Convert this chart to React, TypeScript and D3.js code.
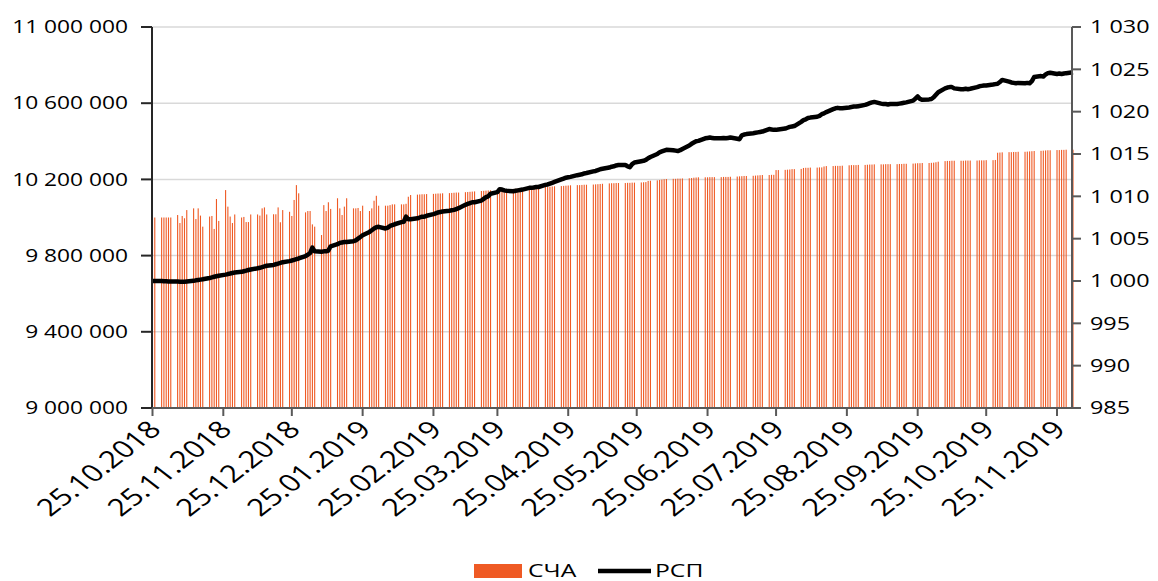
import React from 'react'
import * as d3 from 'd3'

// СЧА, тыс. руб. (one value per business day, grouped by week)
const navValues = [
  10000, 10000,
  10000, 10000, 10000, 10000, 10000,
  10013, 9971, 10008, 9996, 10039,
  10048, 9992, 10048, 10010, 9952,
  10005, 10008, 9940, 10097, 9982,
  10144, 10057, 10005, 9971, 10016,
  10000, 10003, 9976, 9976, 10016,
  10016, 10010, 10048, 10053, 10016,
  10017, 10017, 10053, 9975, 10039,
  10030, 10008, 10092, 10170, 10127,
  10027, 10034, 10034, 9964, 9952,
  9908, 10065, 10034, 10080, 10045,
  10101, 10048, 10013, 10057, 10101,
  10048, 10048, 10050, 10034, 10062,
  10034, 10048, 10088, 10114, 10062,
  10062, 10062, 10065, 10069, 10069,
  10069, 10069, 10072, 10109, 10118,
  10120, 10121, 10122, 10122, 10123,
  10124, 10125, 10126, 10126, 10127,
  10128, 10129, 10130, 10131, 10131,
  10133, 10134, 10135, 10136, 10137,
  10139, 10140, 10141, 10142, 10143,
  10145, 10146, 10147, 10148, 10149,
  10150, 10151, 10152, 10153, 10154,
  10155, 10156, 10157, 10158, 10158,
  10160, 10161, 10162, 10163, 10164,
  10165, 10166, 10167, 10168, 10169,
  10170, 10170, 10171, 10172, 10172,
  10173, 10174, 10175, 10176, 10177,
  10179, 10180, 10180, 10181, 10181,
  10181, 10182, 10182, 10183, 10183,
  10184, 10185, 10186, 10192, 10193,
  10195, 10197, 10199, 10201, 10202,
  10203, 10203, 10204, 10204, 10205,
  10206, 10207, 10209, 10210, 10211,
  10211, 10211, 10212, 10212, 10212,
  10212, 10213, 10213, 10213, 10214,
  10215, 10216, 10217, 10218, 10218,
  10219, 10220, 10221, 10222, 10223,
  10223, 10224, 10224, 10249, 10249,
  10250, 10251, 10252, 10254, 10254,
  10255, 10260, 10261, 10261, 10262,
  10262, 10263, 10263, 10268, 10270,
  10270, 10271, 10271, 10271, 10272,
  10274, 10275, 10275, 10275, 10276,
  10276, 10277, 10278, 10278, 10279,
  10279, 10279, 10280, 10280, 10280,
  10280, 10281, 10281, 10282, 10282,
  10283, 10284, 10285, 10285, 10286,
  10286, 10287, 10288, 10290, 10293,
  10296, 10297, 10297, 10298, 10298,
  10298, 10298, 10299, 10299, 10299,
  10299, 10300, 10300, 10300, 10301,
  10301, 10302, 10340, 10341, 10342,
  10343, 10343, 10344, 10344, 10345,
  10345, 10346, 10347, 10348, 10349,
  10350, 10351, 10352, 10353, 10353,
  10354, 10354, 10355, 10355, 10356,
  10356
]

// РСП, руб.
const unitValues = [
  1000.0, 1000.0,
  1000.0, 999.98, 999.97, 999.95, 999.95,
  999.93, 999.92, 999.9, 999.92, 999.95,
  1000.02, 1000.08, 1000.12, 1000.16, 1000.2,
  1000.35, 1000.42, 1000.5, 1000.56, 1000.62,
  1000.75, 1000.82, 1000.88, 1000.95, 1001.0,
  1001.08, 1001.15, 1001.22, 1001.3, 1001.36,
  1001.5, 1001.56, 1001.64, 1001.72, 1001.8,
  1001.9, 1001.98, 1002.06, 1002.14, 1002.22,
  1002.35, 1002.42, 1002.5, 1002.58, 1002.66,
  1002.95, 1003.1, 1003.3, 1003.95, 1003.5,
  1003.45, 1003.5, 1003.5, 1003.6, 1004.1,
  1004.35, 1004.5, 1004.55, 1004.6, 1004.6,
  1004.7, 1004.8, 1005.0, 1005.2, 1005.4,
  1005.8, 1006.0, 1006.2, 1006.35, 1006.4,
  1006.2, 1006.3, 1006.5, 1006.6, 1006.7,
  1006.95, 1007.0, 1007.6, 1007.3, 1007.3,
  1007.4, 1007.5, 1007.6, 1007.6, 1007.7,
  1007.9, 1008.0, 1008.1, 1008.15, 1008.2,
  1008.3, 1008.35, 1008.4, 1008.5, 1008.6,
  1009.0, 1009.1, 1009.2, 1009.3, 1009.3,
  1009.5, 1009.7, 1009.9, 1010.0, 1010.3,
  1010.5, 1010.85, 1010.8, 1010.7, 1010.65,
  1010.6, 1010.65, 1010.7, 1010.75, 1010.8,
  1011.0, 1011.0, 1011.05, 1011.1, 1011.1,
  1011.35, 1011.4, 1011.5, 1011.6, 1011.7,
  1012.0, 1012.1, 1012.2, 1012.25, 1012.3,
  1012.5, 1012.55, 1012.6, 1012.7, 1012.75,
  1012.95, 1013.0, 1013.1, 1013.2, 1013.25,
  1013.4, 1013.5, 1013.55, 1013.65, 1013.7,
  1013.7, 1013.55, 1013.45, 1013.8, 1014.0,
  1014.15, 1014.2, 1014.3, 1014.5, 1014.65,
  1015.0, 1015.2, 1015.3, 1015.4, 1015.5,
  1015.45, 1015.4, 1015.35, 1015.45, 1015.6,
  1016.0, 1016.2, 1016.35, 1016.5, 1016.55,
  1016.85, 1016.9, 1016.95, 1016.9, 1016.85,
  1016.85, 1016.9, 1016.85, 1016.9, 1016.95,
  1016.8, 1016.75, 1017.2, 1017.3, 1017.35,
  1017.45, 1017.5, 1017.55, 1017.6, 1017.65,
  1017.95, 1017.9, 1017.85, 1017.85, 1017.9,
  1018.0, 1018.1, 1018.2, 1018.25, 1018.3,
  1018.8, 1019.0, 1019.1, 1019.25, 1019.3,
  1019.4, 1019.5, 1019.7, 1019.8, 1019.95,
  1020.3, 1020.4, 1020.45, 1020.4, 1020.4,
  1020.5, 1020.55, 1020.6, 1020.6, 1020.65,
  1020.8, 1020.9, 1021.0, 1021.1, 1021.15,
  1020.95, 1020.9, 1020.9, 1020.85, 1020.9,
  1020.9, 1020.95, 1021.0, 1021.05, 1021.1,
  1021.3, 1021.55, 1021.8, 1021.5, 1021.4,
  1021.45, 1021.5, 1021.7, 1022.0, 1022.3,
  1022.75, 1022.85, 1022.9, 1022.9, 1022.75,
  1022.65, 1022.65, 1022.7, 1022.65, 1022.7,
  1022.9, 1023.0, 1023.05, 1023.1, 1023.1,
  1023.2, 1023.25, 1023.3, 1023.5, 1023.75,
  1023.55, 1023.45, 1023.4, 1023.35, 1023.4,
  1023.35, 1023.4, 1023.35, 1023.6, 1024.1,
  1024.2, 1024.15, 1024.4, 1024.55, 1024.6,
  1024.45, 1024.5, 1024.45, 1024.5, 1024.55,
  1024.65
]

const leftTicks = [9000000, 9400000, 9800000, 10200000, 10600000, 11000000]
const rightTicks = [985, 990, 995, 1000, 1005, 1010, 1015, 1020, 1025, 1030]
const seriesNames = ['СЧА', 'РСП']

const startDate = new Date(2018, 9, 25)
const endDate = new Date(2019, 11, 2)

const W = 1158
const H = 581
const margin = { left: 152, right: 1073, top: 27, bottom: 408 }
const barColor = '#EF5A24'
const font = "'Open Sans', 'Noto Sans', sans-serif"
// the picture is wider than tall, text is stretched sideways
const sx = 1.3

const fmt = d3.formatLocale({ decimal: ',', thousands: ' ', grouping: [3], currency: ['', ''] }).format(',d')
const dateFmt = d3.timeFormat('%d.%m.%Y')

export default function App() {
  // business days of the period
  const days = d3.timeDay.range(startDate, d3.timeDay.offset(endDate, 1)).filter(d => d.getDay() % 6 !== 0)
  const n = Math.min(days.length, navValues.length, unitValues.length)
  const data = d3.range(n).map(i => ({ date: days[i], nav: navValues[i] * 1000, unit: unitValues[i] }))

  const x = d3.scaleTime().domain([startDate, endDate]).range([margin.left + 0.5, margin.right])
  const yL = d3.scaleLinear().domain([9000000, 11000000]).range([margin.bottom, margin.top])
  const yR = d3.scaleLinear().domain([985, 1030]).range([margin.bottom, margin.top])

  const monthTicks = d3.range(14).map(i => new Date(2018, 9 + i, 25))
  const line = d3.line<any>().x(d => x(d.date)).y(d => yR(d.unit))
  const axisRight = 1072

  return (
    <svg width={W} height={H} style={{ position: 'absolute', left: 0, top: 0, background: '#fff' }}
      fontFamily={font}>
      {/* gridlines */}
      {leftTicks.slice(1).map(t => (
        <line key={t} x1={margin.left} x2={axisRight} y1={yL(t)} y2={yL(t)} stroke="#D9D9D9" strokeWidth={1.5} />
      ))}
      {/* bars */}
      <g>
        {data.map((d, i) => (
          <rect key={i} x={x(d.date) - 0.55} width={1.1} y={yL(d.nav)} height={margin.bottom - yL(d.nav)} fill={barColor} />
        ))}
      </g>
      {/* line */}
      <path d={line(data) || ''} fill="none" stroke="#000" strokeWidth={4.5} strokeLinejoin="round" />

      {/* left axis */}
      <line x1={margin.left} x2={margin.left} y1={margin.top} y2={margin.bottom} stroke="#262626" strokeWidth={2} />
      {leftTicks.map(t => (
        <g key={t} transform={`translate(0,${yL(t)})`}>
          <line x1={margin.left - 11} x2={margin.left} stroke="#262626" strokeWidth={2} />
          <text transform={`translate(128,0) scale(${sx},1)`} dy="0.35em" textAnchor="end" fontSize={17.5} fill="#000">{fmt(t)}</text>
        </g>
      ))}

      {/* right axis */}
      <line x1={axisRight} x2={axisRight} y1={margin.top} y2={margin.bottom} stroke="#595959" strokeWidth={2} />
      {rightTicks.map(t => (
        <g key={t} transform={`translate(0,${yR(t)})`}>
          <line x1={axisRight} x2={axisRight + 9} stroke="#595959" strokeWidth={2} />
          <text transform={`translate(1090,0) scale(${sx},1)`} dy="0.35em" textAnchor="start" fontSize={18} fill="#000">{fmt(t)}</text>
        </g>
      ))}

      {/* x axis */}
      <line x1={margin.left} x2={axisRight} y1={margin.bottom} y2={margin.bottom} stroke="#595959" strokeWidth={2} />
      {monthTicks.map(t => (
        <g key={+t} transform={`translate(${x(t)},${margin.bottom})`}>
          <line y1={0} y2={8} stroke="#595959" strokeWidth={2} />
          <text transform={`translate(10,23) scale(${sx},1) rotate(-45)`} textAnchor="end" fontSize={24} fill="#000">{dateFmt(t)}</text>
        </g>
      ))}

      {/* legend */}
      <rect x={474} y={564} width={48} height={14} fill={barColor} />
      <text transform={`translate(528,577) scale(${sx},1)`} fontSize={19} fill="#000">{seriesNames[0]}</text>
      <line x1={598} x2={651} y1={571} y2={571} stroke="#000" strokeWidth={4.5} />
      <text transform={`translate(655,577) scale(${sx},1)`} fontSize={19} fill="#000">{seriesNames[1]}</text>
    </svg>
  )
}
